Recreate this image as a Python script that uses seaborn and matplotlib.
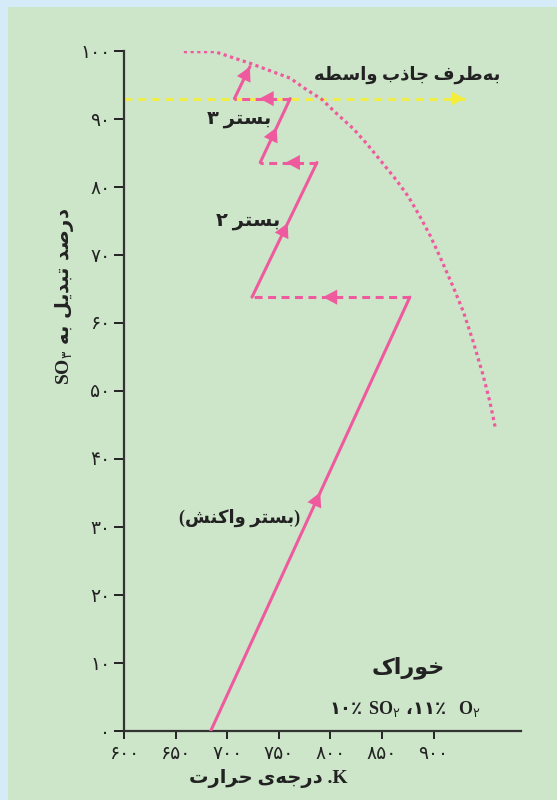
import matplotlib
matplotlib.use("Agg")
import matplotlib.pyplot as plt
import seaborn as sns
from matplotlib.patches import Rectangle

# temperatures (K) and SO3 conversion (%)
bed1_T = [684, 877]
bed1_X = [0, 63.8]
cool1_T = [877, 724]
cool1_X = [63.8, 63.8]
bed2_T = [724, 787]
bed2_X = [63.8, 83.6]
cool2_T = [787, 732]
cool2_X = [83.6, 83.6]
bed3_T = [732, 761]
bed3_X = [83.6, 93.0]
cool3_T = [761, 707]
cool3_X = [93.0, 93.0]
exit_T = [707, 722]
exit_X = [93.0, 97.7]
absorber_T = [600, 930]
absorber_X = [93.0, 93.0]
eq_T = [658, 688, 722, 741.5, 761, 777, 791.6, 806, 822, 835, 848, 864, 875.5, 887, 896.5,
        906, 919, 929, 938.5, 948, 954.7, 960.2]
eq_X = [99.9, 99.9, 98.2, 97.1, 96.0, 94.3, 92.9, 90.8, 88.6, 86.4, 84.0, 81.0, 78.6, 75.6, 72.9,
        69.8, 65.3, 61.6, 57.2, 52.3, 48.3, 44.3]

x_ticks = [600, 650, 700, 750, 800, 850, 900]
x_labels = ["۶۰۰", "۶۵۰", "۷۰۰", "۷۵۰", "۸۰۰", "۸۵۰", "۹۰۰"]
y_ticks = [0, 10, 20, 30, 40, 50, 60, 70, 80, 90, 100]
y_labels = ["۰", "۱۰", "۲۰", "۳۰", "۴۰", "۵۰", "۶۰", "۷۰", "۸۰", "۹۰", "۱۰۰"]

PINK = "#ef5a9e"
YELLOW = "#f4ee3a"
INK = "#222222"

# matplotlib has no Arabic shaping: pick presentation forms and reverse by hand
FORMS = {
    "ا": ("\ufe8d", "\ufe8e", None, None),
    "ب": ("\ufe8f", "\ufe90", "\ufe91", "\ufe92"),
    "ت": ("\ufe95", "\ufe96", "\ufe97", "\ufe98"),
    "ج": ("\ufe9d", "\ufe9e", "\ufe9f", "\ufea0"),
    "ح": ("\ufea1", "\ufea2", "\ufea3", "\ufea4"),
    "خ": ("\ufea5", "\ufea6", "\ufea7", "\ufea8"),
    "د": ("\ufea9", "\ufeaa", None, None),
    "ذ": ("\ufeab", "\ufeac", None, None),
    "ر": ("\ufead", "\ufeae", None, None),
    "س": ("\ufeb1", "\ufeb2", "\ufeb3", "\ufeb4"),
    "ش": ("\ufeb5", "\ufeb6", "\ufeb7", "\ufeb8"),
    "ص": ("\ufeb9", "\ufeba", "\ufebb", "\ufebc"),
    "ط": ("\ufec1", "\ufec2", "\ufec3", "\ufec4"),
    "ف": ("\ufed1", "\ufed2", "\ufed3", "\ufed4"),
    "ک": ("\ufb8e", "\ufb8f", "\ufb90", "\ufb91"),
    "ل": ("\ufedd", "\ufede", "\ufedf", "\ufee0"),
    "ن": ("\ufee5", "\ufee6", "\ufee7", "\ufee8"),
    "ه": ("\ufee9", "\ufeea", "\ufeeb", "\ufeec"),
    "و": ("\ufeed", "\ufeee", None, None),
    "ی": ("\ufbfc", "\ufbfd", "\ufbfe", "\ufbff"),
}
MIRROR = {"(": ")", ")": "("}


def fa(s):
    out = []
    for i, c in enumerate(s):
        if c not in FORMS:
            if c != "\u200c":
                out.append(MIRROR.get(c, c))
            continue
        prev = s[i - 1] if i > 0 else ""
        nxt = s[i + 1] if i + 1 < len(s) else ""
        jp = prev in FORMS and FORMS[prev][2] is not None
        jn = FORMS[c][2] is not None and nxt in FORMS
        iso, fin, ini, med = FORMS[c]
        out.append(med if (jp and jn) else fin if jp else ini if jn else iso)
    return "".join(reversed(out))


sns.set_style("ticks")
plt.rcParams["font.family"] = ["Liberation Serif", "DejaVu Sans"]
plt.rcParams["mathtext.fontset"] = "custom"
plt.rcParams["mathtext.rm"] = "DejaVu Sans"
plt.rcParams["mathtext.bf"] = "Liberation Serif:bold"

fig = plt.figure(figsize=(5.57, 8.0), dpi=100, facecolor="#d5ecf8")
fig.add_artist(Rectangle((8 / 557, 0), 1, 1 - 7 / 800, transform=fig.transFigure,
                         facecolor="#cde6c9", edgecolor="none", zorder=-10))
ax = fig.add_axes([124 / 557, 1 - 731 / 800, (520.7 - 124) / 557, (731 - 51) / 800])
ax.set_facecolor("none")

# equilibrium curve
sns.lineplot(x=eq_T, y=eq_X, sort=False, ax=ax, color=PINK, lw=2.3,
             linestyle=(0, (1, 1.1)), zorder=3)
# line to the intermediate absorber
sns.lineplot(x=absorber_T, y=absorber_X, sort=False, ax=ax, color=YELLOW, lw=2,
             linestyle=(0, (2.8, 2.2)), zorder=2)
ax.annotate("", xy=(absorber_T[1], absorber_X[1]), xytext=(absorber_T[1] - 10, absorber_X[1]),
            arrowprops=dict(arrowstyle="-|>,head_length=0.6,head_width=0.32", mutation_scale=16,
                            color=YELLOW, lw=0, shrinkA=0, shrinkB=0), zorder=2)


def mid_arrow(T, X, frac=0.5):
    xa = T[0] + (T[1] - T[0]) * (frac - 0.08)
    ya = X[0] + (X[1] - X[0]) * (frac - 0.08)
    xb = T[0] + (T[1] - T[0]) * (frac + 0.05)
    yb = X[0] + (X[1] - X[0]) * (frac + 0.05)
    ax.annotate("", xy=(xb, yb), xytext=(xa, ya),
                arrowprops=dict(arrowstyle="-|>,head_length=0.6,head_width=0.32", mutation_scale=17,
                                color=PINK, lw=0, shrinkA=0, shrinkB=0), zorder=5)


for T, X in [(bed1_T, bed1_X), (bed2_T, bed2_X), (bed3_T, bed3_X)]:
    sns.lineplot(x=T, y=X, sort=False, ax=ax, color=PINK, lw=2.2, zorder=4)
    mid_arrow(T, X)
for T, X in [(cool1_T, cool1_X), (cool2_T, cool2_X), (cool3_T, cool3_X)]:
    sns.lineplot(x=T, y=X, sort=False, ax=ax, color=PINK, lw=2.2,
                 linestyle=(0, (2.6, 1.8)), zorder=4)
    mid_arrow(T, X)
sns.lineplot(x=exit_T, y=exit_X, sort=False, ax=ax, color=PINK, lw=2.2, zorder=4)
ax.annotate("", xy=(exit_T[1], exit_X[1]), xytext=(exit_T[0], exit_X[0]),
            arrowprops=dict(arrowstyle="-|>,head_length=0.6,head_width=0.32", mutation_scale=17,
                            color=PINK, lw=0, shrinkA=0, shrinkB=0), zorder=5)

ax.set_xlim(600, 984.4)
ax.set_ylim(0, 100)
ax.set_xticks(x_ticks)
ax.set_xticklabels(x_labels)
ax.set_yticks(y_ticks)
ax.set_yticklabels(y_labels)
ax.tick_params(axis="both", colors=INK, labelsize=13.5, width=1.4, direction="out")
ax.tick_params(axis="y", length=7, pad=3)
ax.tick_params(axis="x", length=6, pad=5)
sns.despine(ax=ax)
for side in ["left", "bottom"]:
    ax.spines[side].set_color("#333333")
    ax.spines[side].set_linewidth(1.6)

txt = dict(color=INK, ha="center", va="center", fontweight="bold")
ax.text(874, 96.5, fa("به‌طرف جاذب واسطه"), fontsize=13, **txt)
ax.text(712, 89.9, fa("بستر ۳"), fontsize=14, **txt)
ax.text(720, 74.9, fa("بستر ۲"), fontsize=14, **txt)
ax.text(712, 31.3, fa("(بستر واکنش)"), fontsize=13, **txt)
ax.text(875, 9.3, fa("خوراک"), fontsize=16, **txt)
ax.text(872, 3.2, "۱۰٪ $\\mathbf{SO}_\\mathrm{۲}$ ،۱۱٪  $\\mathbf{O}_\\mathrm{۲}$", fontsize=13,
        family="DejaVu Sans", **txt)

fig.text(268 / 557, 1 - 778 / 800, fa("درجه‌ی حرارت") + " .K", fontsize=14, **txt)
fig.text(65 / 557, 1 - 296 / 800, "$\\mathbf{SO}_\\mathrm{۳}$ " + fa("درصد تبدیل به"), fontsize=14,
         rotation=90, family="DejaVu Sans", **txt)

fig.savefig("out.png", dpi=100, facecolor=fig.get_facecolor())
